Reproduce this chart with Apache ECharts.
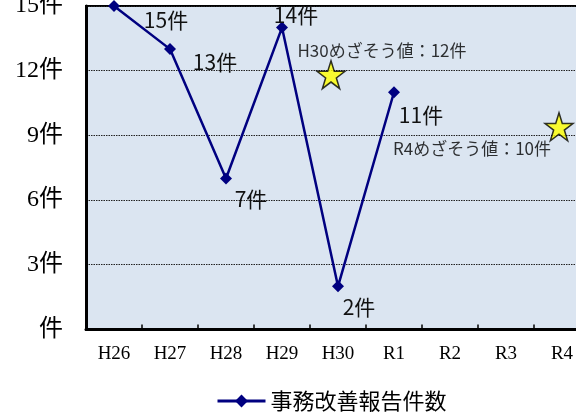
<!DOCTYPE html>
<html>
<head>
<meta charset="utf-8">
<script src="https://cdn.jsdelivr.net/npm/echarts@6/dist/echarts.min.js"></script>
<style>
html,body{margin:0;padding:0;background:#fff;}
#c{width:576px;height:416px;}
</style>
</head>
<body>
<div id="c"></div>
<script>
// ---- data ----
const categories = ['H26','H27','H28','H29','H30','R1','R2','R3','R4'];
const reportCounts = [15, 13, 7, 14, 2, 11];
const seriesName = '事務改善報告件数';
const targetYears = ['H30', 'R4'];
const targetValues = [12, 10];
const yTicks = [0, 3, 6, 9, 12, 15];

// ---- style (positions of labels / markers) ----
const countLabelOffsets = [[52,14],[45,13],[25,21],[14,-13],[21,21],[27,23]];
const starOffsets = [[-7,4],[-3,13]];
const targetLabelOffsets = [[51,-24],[-87,22]];

const STAR = 'path://M50,0 L61.2,34.5 L97.6,34.5 L68.2,55.9 L79.4,90.5 L50,69.1 L20.6,90.5 L31.8,55.9 L2.4,34.5 L38.8,34.5 Z';

const chart = echarts.init(document.getElementById('c'), null, {renderer:'canvas'});
chart.setOption({
  animation: false,
  backgroundColor: '#ffffff',
  grid: {
    left: 86, top: 6, width: 504, height: 323.4,
    outerBoundsMode: 'none',
    containLabel: false,
    show: true, backgroundColor: '#DBE5F1', borderColor: '#000', borderWidth: 2
  },
  legend: {
    data: [seriesName],
    left: 211, top: 385,
    itemWidth: 48, itemHeight: 16, itemGap: 10,
    lineStyle: { width: 3 },
    textStyle: { fontSize: 22, color: '#000', fontFamily: "'Noto Sans CJK JP', sans-serif" }
  },
  xAxis: {
    type: 'category',
    data: categories,
    boundaryGap: true,
    axisLine: { show: true, lineStyle: { color: '#000', width: 3 } },
    axisTick: { show: true, inside: true, length: 5, lineStyle: { color: '#000', width: 1.5 } },
    axisLabel: { margin: 15, fontSize: 19, color: '#000', fontFamily: "'Liberation Serif', serif" },
    splitLine: { show: false }
  },
  yAxis: {
    type: 'value',
    min: yTicks[0], max: yTicks[yTicks.length-1], interval: 3,
    axisLine: { show: true, lineStyle: { color: '#000', width: 3 } },
    axisTick: { show: false },
    axisLabel: {
      margin: 23, fontSize: 24, color: '#000',
      fontFamily: "'Liberation Serif', 'Noto Sans CJK JP', serif",
      formatter: v => (v === 0 ? '件' : v + '件')
    },
    splitLine: { show: true, lineStyle: { color: '#222', width: 1, type: [1.5, 1] } }
  },
  series: [
    {
      name: seriesName,
      type: 'line',
      clip: false,
      data: reportCounts.map((v, i) => ({
        value: v,
        label: { offset: countLabelOffsets[i] }
      })),
      symbol: 'diamond',
      symbolSize: 12,
      lineStyle: { color: '#000080', width: 2.5 },
      itemStyle: { color: '#000080' },
      label: {
        show: true, position: 'inside',
        formatter: p => p.value + '件',
        fontSize: 21, color: '#111',
        fontFamily: "'Noto Sans CJK JP', sans-serif"
      },
      z: 3
    },
    {
      name: 'target',
      type: 'scatter',
      data: targetYears.map((y, i) => ({
        value: [y, targetValues[i]],
        symbolOffset: starOffsets[i],
        label: { offset: targetLabelOffsets[i] }
      })),
      symbol: STAR,
      symbolSize: [28, 28],
      itemStyle: { color: '#FFFF00', borderColor: '#000', borderWidth: 1.5 },
      label: {
        show: true, position: 'inside',
        formatter: p => p.value[0] + 'めざそう値：' + p.value[1] + '件',
        fontSize: 17, color: '#000',
        fontFamily: "'Noto Sans CJK JP', sans-serif"
      },
      z: 2
    }
  ]
});
</script>
</body>
</html>
